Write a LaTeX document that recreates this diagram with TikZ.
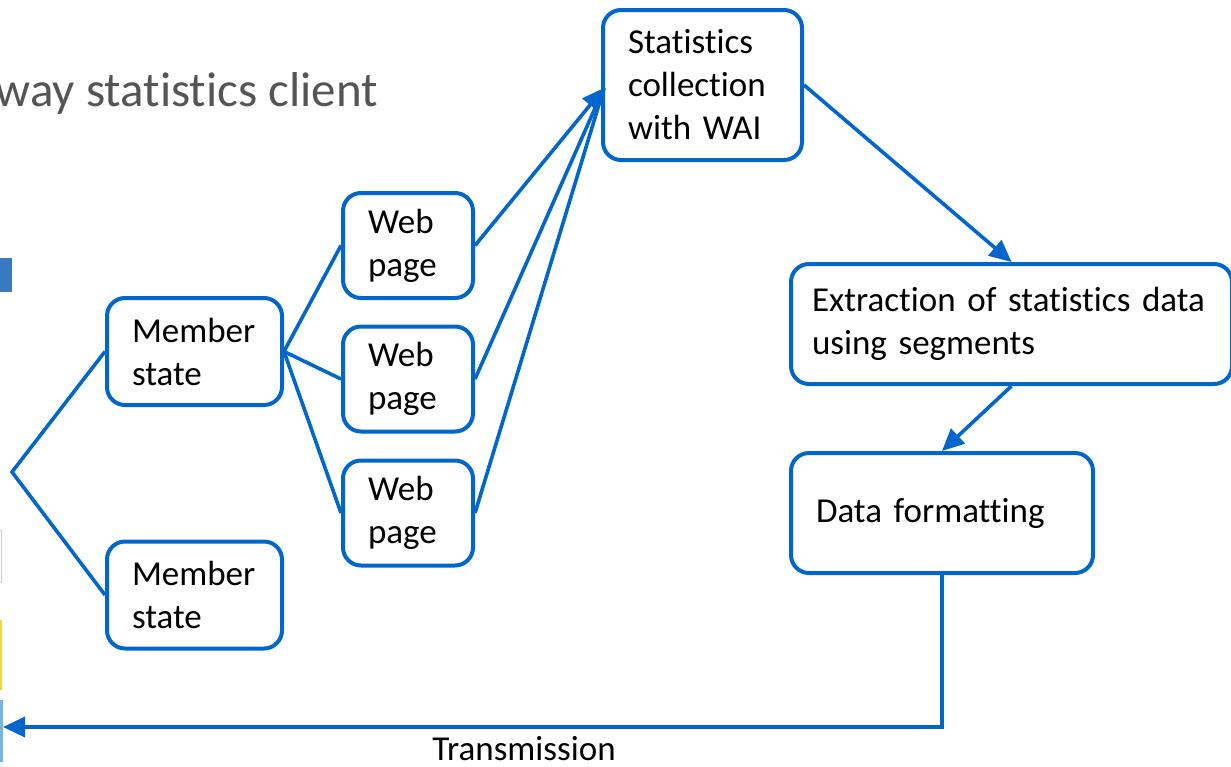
\documentclass[tikz,border=0pt]{standalone}
\usepackage{fontspec}
\setmainfont[Ligatures=NoCommon]{Carlito}
\usetikzlibrary{arrows.meta,positioning}
\definecolor{flowblue}{HTML}{0066CC}
\definecolor{titlegray}{HTML}{555555}
\tikzset{
  box/.style={draw=flowblue,line width=4pt,rounded corners=18pt,fill=white,
    inner xsep=25pt,align=left,font=\fontsize{35}{43}\selectfont},
  link/.style={flowblue,line width=3.6pt},
  arr/.style={link,-{Triangle[length=22pt,width=20pt]}}
}
\begin{document}
\begin{tikzpicture}[x=1pt,y=-1pt]
\useasboundingbox (0,0) rectangle (1231,766);
% cut-off bits at the left edge
\fill[fill={rgb,255:red,58;green,120;blue,192}] (-10,258) rectangle (12,292);
\draw[gray!40,line width=1pt] (-10,530) rectangle (1,582);
\fill[fill={rgb,255:red,245;green,213;blue,64}] (-10,620) rectangle (2,690);
\fill[fill={rgb,255:red,120;green,180;blue,225}] (-10,700) rectangle (3,762);
\node[anchor=base east,text=titlegray,font=\fontsize{49}{52}\selectfont,inner sep=0pt] (title) at (378,106) {way statistics client};

\node[box,minimum width=199pt,minimum height=150pt,text width=149pt] (stats) at (702.5,85) {Statistics\\collection\\with WAI};
\node[box,inner xsep=21pt,minimum width=441pt,minimum height=120pt,text width=399pt] (extract) at (1011.5,324) {Extraction of statistics data\\using segments};
\node[box,minimum width=302pt,minimum height=120pt,text width=252pt] (format) at (942,513) {Data formatting};

\node[box,minimum width=175pt,minimum height=107pt,text width=125pt] (member1) at (194.5,351.5) {Member\\state};
\node[box,minimum width=175pt,minimum height=107pt,text width=125pt] (member2) at (194.5,595) {Member\\state};

\node[box,minimum width=130pt,minimum height=105pt,text width=80pt] (web1) at (408,245.5) {Web\\page};
\node[box,minimum width=130pt,minimum height=105pt,text width=80pt] (web2) at (408,379) {Web\\page};
\node[box,minimum width=130pt,minimum height=105pt,text width=80pt] (web3) at (408,513) {Web\\page};

\coordinate (root) at (12,472);
\coordinate (statsin) at (604,88);
\coordinate (back) at (3,727);

\draw[link] (member1.west) -- (root) -- (member2.west);
\foreach \w in {web1,web2,web3}
  \draw[link] (member1.east) -- (\w.west);
\draw[link] (web2.east) -- (statsin);
\draw[link] (web3.east) -- (statsin);
\draw[arr] (web1.east) -- (statsin);

\draw[arr] (stats.east) -- (extract.north);
\draw[arr] (extract.south) -- (format.north);
\draw[arr] (format.south) |- (back);
\node[font=\fontsize{35}{40}\selectfont,inner sep=0pt,anchor=base] (trans) at (524,760) {Transmission};
\end{tikzpicture}
\end{document}
